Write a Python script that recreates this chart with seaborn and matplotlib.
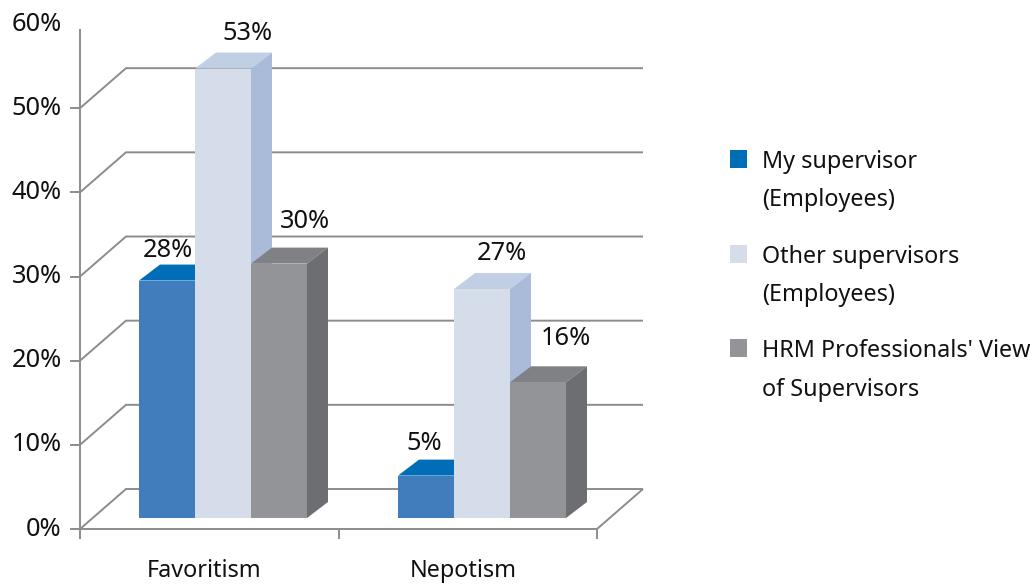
import matplotlib
matplotlib.use("Agg")
import matplotlib.pyplot as plt
import seaborn as sns
import pandas as pd
from matplotlib.patches import Patch, Polygon, Rectangle
from matplotlib.legend_handler import HandlerPatch
from matplotlib.transforms import ScaledTranslation

categories = ["Favoritism", "Nepotism"]
series_names = ["My supervisor\n(Employees)", "Other supervisors\n(Employees)",
                "HRM Professionals' View\nof Supervisors"]
my_supervisor = [28, 5]
other_supervisors = [53, 27]
hrm_view = [30, 16]
y_ticks = [0, 10, 20, 30, 40, 50, 60]
y_tick_labels = ["0%", "10%", "20%", "30%", "40%", "50%", "60%"]

front_colors = ["#417CBD", "#D5DDEB", "#929497"]
top_colors = ["#006DB7", "#C1CFE4", "#808184"]
side_colors = ["#2F5F9F", "#A9BBD8", "#6D6E71"]
legend_colors = ["#006DB7", "#D5DDEB", "#929497"]
line_color = "#8C8C8C"
text_color = "#111111"

W, H, DPI = 1032, 584, 100
FS = 16.8
FS_PCT = 18.3
PX = 72 / DPI  # points per pixel

sns.set_style("white")
plt.rcParams["font.family"] = ["Noto Sans", "DejaVu Sans"]

df = pd.DataFrame({
    "category": categories * 3,
    "series": [s for s in series_names for _ in categories],
    "value": my_supervisor + other_supervisors + hrm_view,
})

fig = plt.figure(figsize=(W / DPI, H / DPI), dpi=DPI)


def pixel_axes(left, right, top, bottom):
    return fig.add_axes([left / W, 1 - bottom / H, (right - left) / W, (bottom - top) / H])


# ---- front plane with axis, walls and floor ----
ax = pixel_axes(80, 597, 24, 529)
ax.set_xlim(-0.5, 1.5)
ax.set_ylim(0, 60)
ax.patch.set_visible(False)
for s in ["top", "right"]:
    ax.spines[s].set_visible(False)
for s in ["left", "bottom"]:
    ax.spines[s].set_color(line_color)
    ax.spines[s].set_linewidth(1.4)
ax.spines["left"].set_bounds(0, 59.26)

depth_x = 46 / (517 / 2)
depth_y = 40 / (505 / 60)
for v in y_ticks[:-1]:
    ax.plot([-0.5, -0.5 + depth_x, 1.5 + depth_x], [v, v + depth_y, v + depth_y],
            color=line_color, lw=1.4, clip_on=False, zorder=1, solid_joinstyle="miter",
            solid_capstyle="butt")
ax.plot([1.5, 1.5 + depth_x], [0, depth_y], color=line_color, lw=1.4, clip_on=False, zorder=1,
        solid_capstyle="butt")

ax.set_yticks(y_ticks, y_tick_labels)
ax.tick_params(axis="y", which="major", left=True, length=10 * PX, width=1.4, color=line_color,
               labelsize=FS_PCT, labelcolor=text_color, pad=6)
ax.yaxis.get_major_ticks()[-1].tick1line.set_visible(False)
shift_y = ScaledTranslation(0, 3 / DPI, fig.dpi_scale_trans)
for t in ax.get_yticklabels():
    t.set_transform(t.get_transform() + shift_y)

ax.set_xticks([-0.5, 0.5, 1.5], ["", "", ""])
ax.tick_params(axis="x", which="major", bottom=True, length=10 * PX, width=1.4, color=line_color)
ax.set_xticks([0, 1], categories, minor=True)
ax.tick_params(axis="x", which="minor", bottom=False, length=0, labelsize=FS,
               labelcolor=text_color, pad=30 * PX)
shift_x = ScaledTranslation(-5 / DPI, 0, fig.dpi_scale_trans)
for t in ax.get_xticklabels(minor=True):
    t.set_transform(t.get_transform() + shift_x)

# ---- bars, standing inside the floor ----
PX_PER_PCT = 8.48
PX_PER_CAT = 259
bx = pixel_axes(80, 597, 18, 518)
sns.barplot(data=df, x="category", y="value", hue="series", order=categories,
            hue_order=series_names, palette=front_colors, saturation=1,
            width=168 / PX_PER_CAT, gap=0, dodge=True, legend=False, ax=bx)
bx.set_xlim(-(223 - 80) / PX_PER_CAT, (597 - 223) / PX_PER_CAT)
bx.set_ylim(0, 500 / PX_PER_PCT)
bx.axis("off")
bx.set_zorder(3)

dx = 21 / PX_PER_CAT
dy = 16 / PX_PER_PCT
label_shift = [[(1, 30), (-2, 32)], [(24, 35), (20, 36)], [(26, 42), (28, 44)]]
for i, container in enumerate(bx.containers):
    z = 3 + i
    for j, bar in enumerate(container.patches):
        x0, w, h = bar.get_x(), bar.get_width(), bar.get_height()
        x1 = x0 + w
        bar.set_zorder(z + 0.5)
        bar.set_linewidth(0)
        bar.set_clip_on(False)
        bx.add_patch(Polygon([(x0, h), (x0 + dx, h + dy), (x1 + dx, h + dy), (x1, h)],
                             closed=True, fc=top_colors[i], ec="none", zorder=z, clip_on=False))
        bx.add_patch(Polygon([(x1, 0), (x1 + dx, dy), (x1 + dx, h + dy), (x1, h)],
                             closed=True, fc=side_colors[i], ec="none", zorder=z, clip_on=False))
        sx, sy = label_shift[i][j]
        bx.annotate(f"{h:.0f}%", xy=(x0 + w / 2, h), xytext=(sx * PX, sy * PX),
                    textcoords="offset points", ha="center", va="center",
                    fontsize=FS_PCT, color=text_color, zorder=10, annotation_clip=False)


# ---- legend: swatch sits beside the first text line ----
def swatch(legend, orig_handle, xdescent, ydescent, width, height, fontsize):
    return Rectangle((-xdescent, -ydescent + 22 * PX), 17 * PX, 18 * PX)


handles = [Patch(fc=c, ec="none") for c in legend_colors]
leg = bx.legend(handles, series_names, loc="upper left",
                bbox_to_anchor=(730 / W, 1 - 150 / H), bbox_transform=fig.transFigure,
                frameon=False, fontsize=FS, borderpad=0, borderaxespad=0,
                handlelength=17 * PX / FS, handletextpad=15 * PX / FS,
                labelspacing=1.38, labelcolor=text_color,
                handler_map={Patch: HandlerPatch(patch_func=swatch)})
for t in leg.get_texts():
    t.set_linespacing(1.8)

fig.savefig("out.png", dpi=DPI)
